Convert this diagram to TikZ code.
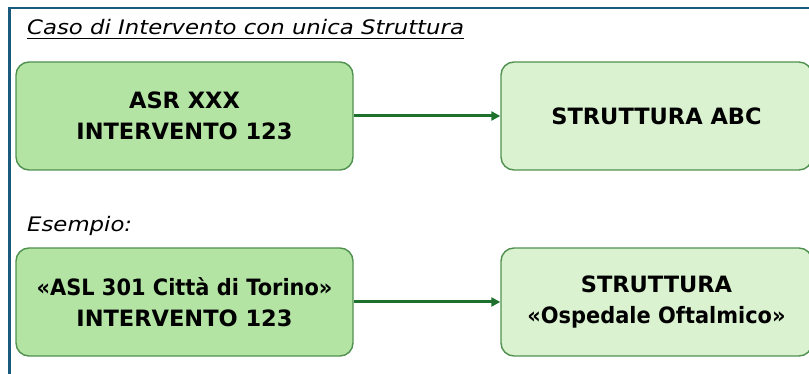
\documentclass[tikz,border=0pt]{standalone}
\usepackage{fontspec}
\setmainfont{DejaVu Sans}[ItalicFont={DejaVu Sans Oblique},BoldFont={DejaVu Sans Bold}]
\usetikzlibrary{arrows.meta}
\definecolor{frameblue}{RGB}{26,90,125}
\definecolor{boxdark}{RGB}{179,228,163}
\definecolor{boxlight}{RGB}{218,242,208}
\definecolor{boxedge}{RGB}{80,145,80}
\definecolor{arrowgreen}{RGB}{30,112,45}
\begin{document}
\begin{tikzpicture}[x=1pt,y=-1pt,
  box/.style={draw=boxedge, line width=1.4pt, rounded corners=13pt,
    minimum height=108pt, align=center, inner sep=0pt,
    font=\fontsize{22.5}{31}\selectfont\bfseries},
  srcbox/.style={box, fill=boxdark, minimum width=337pt},
  dstbox/.style={box, fill=boxlight, minimum width=311pt},
  flow/.style={draw=arrowgreen, line width=3pt, -{Triangle[length=9pt,width=9pt]}},
  note/.style={anchor=base west, inner sep=0pt,
    font=\fontsize{20}{24}\selectfont\itshape}]
\useasboundingbox (0,0) rectangle (809,374);
% outer frame (cut at the right and bottom)
\draw[frameblue, line width=2.2pt] (9.5,374) -- (9.5,8) -- (809,8);
% title
\node[note] (title) at (27,35) {\scalebox{1.14}[1]{Caso di Intervento con unica Struttura}};
\draw[line width=1.2pt] ([yshift=-3.5pt]title.base west) -- ([yshift=-3.5pt]title.base east);
% first pair
\node[srcbox] (asr) at (184.5,116) {ASR XXX\\INTERVENTO 123};
\node[dstbox] (str) at (656.5,116) {STRUTTURA ABC};
\draw[flow] (asr) -- (str);
% example
\node[note] (esempio) at (27,232) {\scalebox{1.14}[1]{Esempio:}};
\node[srcbox] (asl) at (184.5,302) {\scalebox{0.93}[1]{«ASL 301 Città di Torino»}\\INTERVENTO 123};
\node[dstbox] (osp) at (656.5,302) {STRUTTURA\\\scalebox{0.93}[1]{«Ospedale Oftalmico»}};
\draw[flow] (asl) -- (osp);
\end{tikzpicture}
\end{document}
